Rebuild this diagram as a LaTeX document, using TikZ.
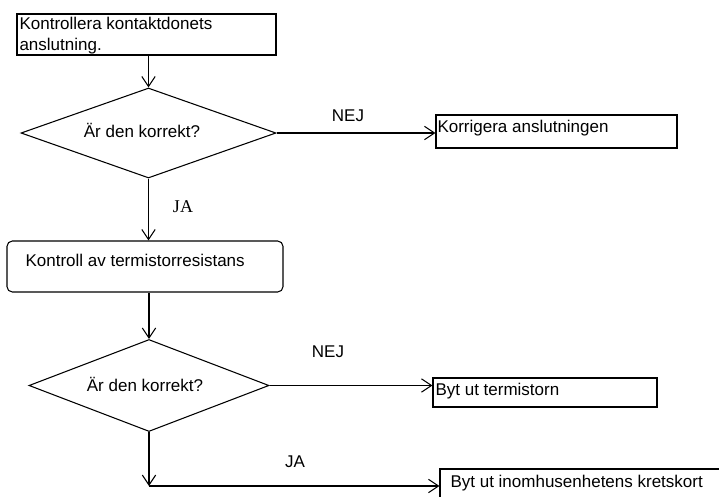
\documentclass[tikz,border=0pt]{standalone}
\usepackage{fontspec}
\setmainfont{Liberation Sans}
\newfontfamily\jaserif{Liberation Serif}
\usetikzlibrary{arrows.meta,shapes.geometric}

\begin{document}
\begin{tikzpicture}[x=0.75pt,y=-0.75pt,
  line width=0.8pt,
  arr/.style={-{Straight Barb[length=7.5pt,width=10pt,line width=0.8pt]}},
  box/.style={draw,rectangle,inner sep=0pt},
  dia/.style={draw,diamond,inner sep=0pt},
  txt/.style={inner sep=0pt,font=\fontsize{12.75}{15.75}\selectfont},
  sertxt/.style={inner sep=0pt,font=\jaserif\fontsize{13.5}{15}\selectfont},
]
\useasboundingbox (0,0) rectangle (719,497);
\clip (0,0) rectangle (719,497);

% shapes
\node[box, minimum width=194.25pt, minimum height=30.75pt] (b1) at (146.5,34.5) {};
\node[dia, minimum width=191.25pt, minimum height=67.5pt] (d1) at (148.5,133) {};
\node[box, minimum width=180.75pt, minimum height=24.75pt] (b3) at (556.5,131.5) {};
\node[box, rounded corners=4pt, minimum width=207pt, minimum height=38.25pt] (b2) at (145,266.5) {};
\node[dia, minimum width=180pt, minimum height=69pt] (d2) at (149,385.5) {};
\node[box, minimum width=168pt, minimum height=21.75pt] (b4) at (545,392.5) {};
\node[box, minimum width=225pt, minimum height=38.25pt] (b5) at (590,494.5) {};

% texts
\node[txt,anchor=base west] (t1a) at (19,29) {Kontrollera kontaktdonets};
\node[txt,anchor=base west] (t1b) at (19,50) {anslutning.};
\node[txt,anchor=base] (td1) at (142,137) {Är den korrekt?};
\node[txt,anchor=base] (nej1) at (348,121) {NEJ};
\node[txt,anchor=base west] (t3) at (437,132) {Korrigera anslutningen};
\node[sertxt,anchor=base] (ja1) at (183,212) {JA};
\node[txt,anchor=base west] (t2) at (25,266) {Kontroll av termistorresistans};
\node[txt,anchor=base] (td2) at (145,391) {Är den korrekt?};
\node[txt,anchor=base] (nej2) at (328,357) {NEJ};
\node[txt,anchor=base west] (t4) at (435,395) {Byt ut termistorn};
\node[txt,anchor=base] (ja2) at (295,467) {JA};
\node[txt,anchor=base west] (t5) at (450,487) {Byt ut inomhusenhetens kretskort};

% connectors
\draw[arr] (b1.south -| d1.north) -- (d1.north);
\draw[arr] (d1.east) -- (d1.east -| b3.west);
\draw[arr] (d1.south) -- (d1.south |- b2.north);
\draw[arr] (d2.north |- b2.south) -- (d2.north);
\draw[arr] (d2.east) -- (d2.east -| b4.west);
\coordinate (c) at (149,486);
\draw[arr] (d2.south) -- (c);
\draw[arr] (c) -- (c -| b5.west);
\end{tikzpicture}
\end{document}
